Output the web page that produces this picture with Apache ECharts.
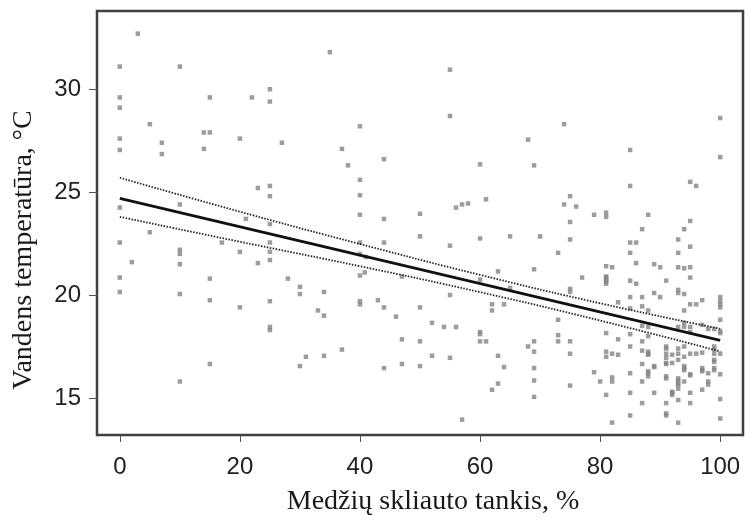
<!DOCTYPE html>
<html>
<head>
<meta charset="utf-8">
<script src="https://cdn.jsdelivr.net/npm/echarts@6/dist/echarts.min.js"></script>
<style>html,body{margin:0;padding:0;background:#fff;}#c{width:745px;height:523px;}</style>
</head>
<body>
<div id="c"></div>
<script>
// Canopy density (%) and water temperature (°C) pairs
const canopyDensity = [
3,0,10,0,15,22,25,25,0,5,14,15,20,0,7,27,0,7,14,23,25,25,0,10,
21,25,5,0,10,10,17,20,25,25,25,23,2,10,0,0,10,15,15,20,25,28,30,30,25,25,15,10,31,30,
35,55,55,40,37,38,44,60,40,40,40,61,56,57,58,50,44,
50,55,60,65,40,44,40,41,40.8,40,47,63,60,65,34,33,34,40,40,43,44,46,50,55,62,62,64,52,54,56,60,60,60,61,47,50,37,34,44,47,50,52,55,63,64,63,62,57,
74,68,69,85,85,100,100,95,96,75,74,76,79,81,81,88,
75,95,94,87,70,75,85,86,93,95,73,85,93,86,81,82,89,90,93,94,95,69,95,77,81,81,85,86,91,93,93,94,89,90,85,87,100,100,100,97,95,96,94,83,85,87,88,87,88,88,73,81,83,85,93,94,95,95,97,98,99,73,73,75,75,69,69,68,81,82,83,81,85,87,88,88,88,91,92,93,94,94,95,96,97,99,99,100,99,87,89,91,92,94,94,97,98,99,100,95,85,88,88,79,80,82,82,87,91,93,93,94,97,98,69,69,69,75,81,85,89,91,91,92,93,95,95,87,100,100,82,85,93,
87,100,94,100,100,91,91,93,99,91,91,93,94,97,97,99,99,91,93,93,93,95,98,92,92,91,89,75,75,81,81,81,100,88
];
const waterTemp = [
32.7,31.1,31.1,29.6,29.6,29.6,30.0,29.4,29.1,28.3,27.9,27.9,27.6,27.6,27.4,27.4,27.05,26.85,27.1,25.2,25.3,24.8,24.25,24.4,
23.7,23.45,23.05,22.55,22.2,22.0,22.55,22.1,22.55,22.1,21.7,21.55,21.6,21.5,20.85,20.15,20.05,20.8,19.75,19.4,19.7,20.8,20.4,20.05,18.45,18.3,16.65,15.8,17.0,16.55,
31.8,30.95,28.7,28.2,27.1,26.3,26.6,26.35,25.6,24.85,23.9,24.65,24.25,24.4,24.45,23.95,23.7,
22.85,22.4,22.75,22.85,22.55,22.55,22.0,21.85,21.1,20.95,20.9,21.15,20.75,20.35,20.15,19.25,19.0,19.7,19.55,19.75,19.4,18.95,19.4,20.0,19.55,19.25,19.55,18.65,18.45,18.45,18.2,18.1,17.75,17.75,17.85,17.75,17.35,17.05,16.45,16.65,16.55,17.05,16.95,17.05,16.5,15.7,15.4,13.95,
28.3,27.55,26.3,27.05,25.3,28.6,26.7,25.5,25.3,24.8,24.4,24.3,23.9,24.0,23.8,23.9,
23.55,23.6,23.2,23.2,22.85,22.7,22.55,22.55,22.7,22.35,22.05,22.05,22.05,21.55,21.4,21.35,21.5,21.35,21.35,21.3,21.35,21.25,20.85,20.85,20.85,20.65,20.7,20.55,20.7,20.25,20.1,20.05,20.1,19.9,19.9,19.9,19.9,19.55,19.4,19.75,19.55,19.55,19.25,19.65,19.35,19.45,19.25,18.5,18.45,18.0,18.8,18.15,17.85,18.1,18.45,18.45,18.45,18.2,18.55,18.35,18.35,18.05,17.75,17.75,17.15,17.75,17.25,17.5,17.25,17.15,17.1,17.0,17.5,17.75,17.25,17.15,17.1,17.5,17.1,17.15,17.5,17.0,17.15,17.15,17.2,17.5,17.15,17.15,16.85,16.65,16.55,16.65,16.7,16.55,16.45,16.35,16.2,16.45,16.15,16.15,16.2,16.2,16.05,16.25,15.8,16.0,15.8,15.8,16.05,15.85,15.65,15.8,15.4,15.65,16.45,15.85,15.05,15.6,15.15,15.25,15.25,14.75,14.25,15.25,14.9,15.25,14.75,14.75,14.95,14.0,13.8,14.15,13.8,
17.3,18.8,18.65,18.25,18.15,17.4,17.15,17.4,17.35,16.95,16.7,16.85,16.35,16.45,16.3,16.75,16.35,15.95,15.95,15.7,15.45,16.1,15.8,15.3,15.15,14.15,16.5,20.3,20.15,20.9,20.75,20.55,19.7,16.3
];
// Fitted regression line and its confidence band
const fitX = [0, 100];
const fitY = [24.7, 17.8];
const bandX = [0, 20, 40, 60, 80, 100];
const bandUpper = [25.7, 24.05, 22.48, 20.98, 19.6, 18.36];
const bandLower = [23.8, 22.59, 21.4, 20.14, 18.76, 17.26];
// Tick labels
const xTicks = [0, 20, 40, 60, 80, 100];
const yTicks = [15, 20, 25, 30];
const xTitle = 'Medžių skliauto tankis, %';
const yTitle = 'Vandens temperatūra, °C';

const points = canopyDensity.map((x, i) => [x, waterTemp[i]]);
const zip = (xs, ys) => xs.map((x, i) => [x, ys[i]]);

const chart = echarts.init(document.getElementById('c'), null, {renderer: 'canvas'});
chart.setOption({
  animation: false,
  backgroundColor: '#fff',
  grid: {left: 97, right: 2, top: 11, bottom: 88, show: true, borderColor: '#404040', borderWidth: 2.5, backgroundColor: 'transparent'},
  graphic: [{
    type: 'text', x: 24, y: 250, rotation: Math.PI / 2,
    style: {text: yTitle, fontFamily: 'Liberation Serif', fontSize: 28, fill: '#1a1a1a', align: 'center', verticalAlign: 'middle'}
  }, {
    type: 'text', x: 433, y: 502,
    style: {text: xTitle, fontFamily: 'Liberation Serif', fontSize: 28, fill: '#1a1a1a', align: 'center', verticalAlign: 'middle'}
  }],
  xAxis: {
    type: 'value', min: -3.8, max: 103.8,
    axisLine: {show: false, onZero: false},
    splitLine: {show: false},
    axisTick: {show: true, length: 7, inside: false, customValues: xTicks, lineStyle: {color: '#555', width: 1}},
    axisLabel: {customValues: xTicks, margin: 20, fontFamily: 'Liberation Sans', fontSize: 24, color: '#222'}
  },
  yAxis: {
    type: 'value', min: 13.2, max: 33.8,
    axisLine: {show: false, onZero: false},
    splitLine: {show: false},
    axisTick: {show: true, length: 8, inside: false, customValues: yTicks, lineStyle: {color: '#555', width: 1}},
    axisLabel: {customValues: yTicks, margin: 16, fontFamily: 'Liberation Sans', fontSize: 24, color: '#222'}
  },
  series: [
    {type: 'scatter', data: points, symbol: 'rect', symbolSize: 4.5, itemStyle: {color: '#858585'}, z: 2},
    {type: 'line', data: zip(fitX, fitY), symbol: 'none', lineStyle: {color: '#111', width: 2.8}, z: 5},
    {type: 'line', data: zip(bandX, bandUpper), smooth: true, symbol: 'none', lineStyle: {color: '#222', width: 1.8, type: [1.5, 1.5]}, z: 4},
    {type: 'line', data: zip(bandX, bandLower), smooth: true, symbol: 'none', lineStyle: {color: '#222', width: 1.8, type: [1.5, 1.5]}, z: 4}
  ]
});
</script>
</body>
</html>
